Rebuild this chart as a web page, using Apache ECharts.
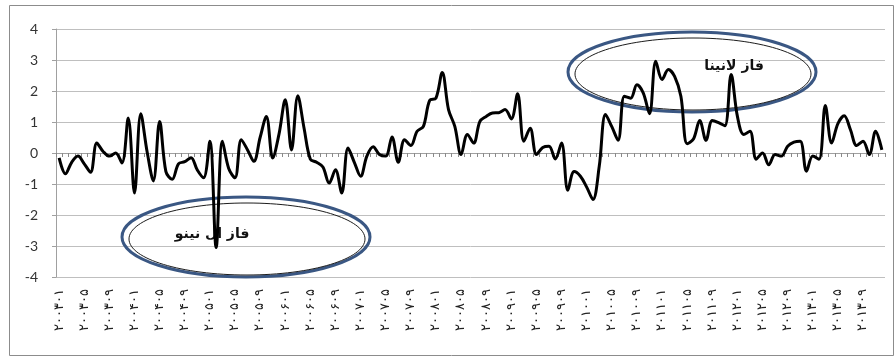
<!DOCTYPE html>
<html>
<head>
<meta charset="utf-8">
<script src="https://cdn.jsdelivr.net/npm/echarts@6/dist/echarts.min.js"></script>
<style>
  html, body { margin: 0; padding: 0; background: #ffffff; }
  #chart { width: 896px; height: 364px; }
</style>
</head>
<body>
<div id="chart"></div>
<script>
// Monthly index, January 2003 – December 2013 (one row per year)
const years = [2003, 2004, 2005, 2006, 2007, 2008, 2009, 2010, 2011, 2012, 2013];
const months = [1, 2, 3, 4, 5, 6, 7, 8, 9, 10, 11, 12];

const indexValues = [
  -0.16, -0.67, -0.3, -0.1, -0.35, -0.62, 0.32, 0.05, -0.1, 0, -0.32, 1.13,
  -1.29, 1.27, 0.05, -0.9, 1.02, -0.6, -0.85, -0.35, -0.28, -0.15, -0.55, -0.8,
  0.38, -3.05, 0.38, -0.5, -0.8, 0.43, 0.1, -0.27, 0.5, 1.18, -0.16, 0.6,
  1.72, 0.1, 1.85, 0.8, -0.2, -0.3, -0.45, -0.97, -0.54, -1.29, 0.16, -0.3,
  -0.75, -0.1, 0.2, -0.05, -0.1, 0.52, -0.3, 0.43, 0.24, 0.7, 0.86, 1.7,
  1.77, 2.6, 1.4, 0.86, -0.05, 0.6, 0.32, 1.02, 1.18, 1.29, 1.3, 1.4,
  1.1, 1.91, 0.38, 0.8, -0.05, 0.18, 0.22, -0.19, 0.32, -1.2, -0.6, -0.75,
  -1.1, -1.5, -0.43, 1.24, 0.85, 0.41, 1.83, 1.77, 2.2, 1.94, 1.27, 2.96,
  2.37, 2.69, 2.47, 1.83, 0.3, 0.45, 1.05, 0.41, 1.05, 0.98, 0.88, 2.53,
  1.18, 0.6, 0.7, -0.2, 0, -0.38, -0.05, -0.1, 0.22, 0.35, 0.38, -0.59,
  -0.1, -0.2, 1.53, 0.32, 0.95, 1.2, 0.75, 0.24, 0.38, -0.05, 0.7, 0.1
];

const phaseLabels = ['فاز ال نینو', 'فاز لانینا'];

const persianDigits = '۰۱۲۳۴۵۶۷۸۹';
const toPersian = s => s.replace(/[0-9]/g, d => persianDigits[+d]);

// category labels such as ۲۰۰۳۰۱ (year + two-digit month)
const categories = [];
years.forEach(y => months.forEach(m => {
  categories.push(toPersian(String(y) + String(m).padStart(2, '0')));
}));

const axisGrey = '#a0a0a0';
const chart = echarts.init(document.getElementById('chart'), null, { renderer: 'canvas' });

function ellipsePair(cx, cy, rx, ry) {
  return [
    { type: 'ellipse', z: 1, silent: true,
      shape: { cx: cx, cy: cy, rx: rx, ry: ry },
      style: { fill: 'none', stroke: '#3a5783', lineWidth: 3 } },
    { type: 'ellipse', z: 1, silent: true,
      shape: { cx: cx + 1, cy: cy + 2, rx: rx - 6, ry: ry - 4 },
      style: { fill: 'none', stroke: '#1c1c1c', lineWidth: 1 } }
  ];
}

chart.setOption({
  animation: false,
  backgroundColor: '#ffffff',
  grid: { left: 56, top: 29, width: 829, height: 248, containLabel: false },
  xAxis: [
    {
      type: 'category',
      data: categories,
      boundaryGap: true,
      position: 'bottom',
      axisLine: { show: false, onZero: false },
      axisTick: { show: false },
      splitLine: { show: false },
      axisLabel: {
        interval: 3,
        rotate: 90,
        margin: 12,
        fontFamily: 'DejaVu Sans',
        fontSize: 13,
        color: '#222222'
      }
    },
    {
      type: 'category',
      data: categories,
      boundaryGap: true,
      position: 'bottom',
      axisLine: { show: true, onZero: true, lineStyle: { color: axisGrey, width: 1 } },
      axisTick: { show: true, interval: 0, length: 4, lineStyle: { color: '#8a8a8a' } },
      axisLabel: { show: false },
      splitLine: { show: false }
    }
  ],
  yAxis: {
    type: 'value',
    min: -4,
    max: 4,
    interval: 1,
    axisLine: { show: true, lineStyle: { color: axisGrey } },
    axisTick: { show: true, length: 4, lineStyle: { color: axisGrey } },
    axisLabel: { margin: 18, fontFamily: 'Lato', fontSize: 14, color: '#333333' },
    splitLine: { show: true, lineStyle: { color: '#bfbfbf', width: 1 } }
  },
  series: [{
    type: 'line',
    xAxisIndex: 0,
    data: indexValues,
    smooth: 0.35,
    showSymbol: false,
    z: 3,
    lineStyle: { color: '#000000', width: 3 }
  }],
  graphic: [
    { type: 'rect', z: 0, silent: true,
      shape: { x: 9.5, y: 5.5, width: 884, height: 350 },
      style: { fill: 'none', stroke: '#8c8c8c', lineWidth: 1 } },
    ...ellipsePair(246, 237, 124, 40),
    ...ellipsePair(692, 72, 124, 40),
    { type: 'text', z: 2, silent: true, x: 212, y: 234,
      style: { text: phaseLabels[0], font: 'bold 14px "DejaVu Sans"', fill: '#111111',
               align: 'center', verticalAlign: 'middle' } },
    { type: 'text', z: 2, silent: true, x: 734, y: 66,
      style: { text: phaseLabels[1], font: 'bold 14px "DejaVu Sans"', fill: '#111111',
               align: 'center', verticalAlign: 'middle' } }
  ]
});
</script>
</body>
</html>
